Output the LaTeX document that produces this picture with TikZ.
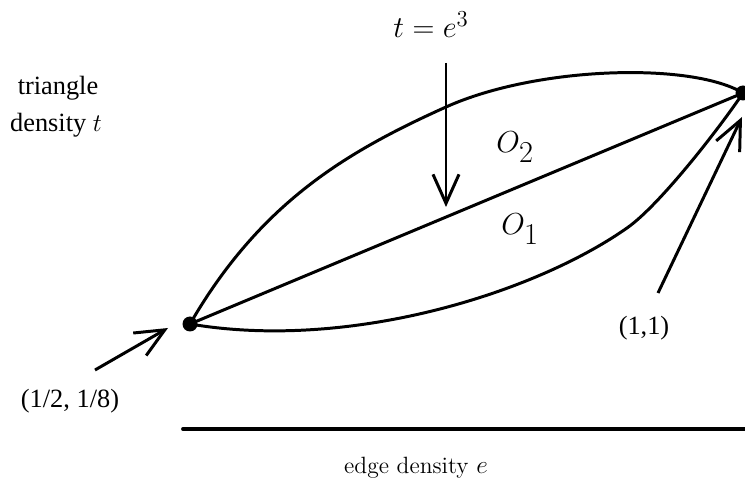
\documentclass[tikz,border=0pt]{standalone}
\usepackage{amsmath, amssymb}
\usepackage{fontspec}
\newfontfamily\timesfont{Liberation Serif}
\usepackage{tikz}
\usetikzlibrary{calc, arrows.meta}
\usepackage{tkz-euclide}

\begin{document}
\begin{tikzpicture}[x=0.02cm, y=-0.02cm, line width=1.7pt,
    pointer/.style={-{Straight Barb[length=0.58cm, width=0.52cm]}},
    lbl/.style={font=\timesfont\fontsize{15}{18}\selectfont, anchor=base, inner sep=0pt},
    mlbl/.style={font=\fontsize{17}{20}\selectfont, anchor=base, inner sep=0pt}]
                \useasboundingbox (0,0) rectangle (745,483);
                \tkzDefPoints{190/324/P, 743/93/Q, 446/107/M, 627/228/R, 183/429/A, 745/429/B}
                % the two curves O_2 (top) and O_1 (bottom)
                \draw (P) .. controls (260,203) and (346,152) .. (M)
                          .. controls (537,66) and (692,62) .. (Q);
                \draw (P) .. controls (348,351) and (533,294) .. (R)
                          .. controls (660,205) and (721,126) .. (Q);
                \tkzDrawSegments[black, line width=1.7pt](P,Q)
                \tkzDrawSegments[black, line width=2.2pt](A,B)
                \fill (P) circle (7.5) (Q) circle (7.5);
                % arrows
                \coordinate (tTop) at (446,63);
                \coordinate (tTip) at (446,207);
                \coordinate (hStart) at (95,370);
                \coordinate (hTip) at (168,328);
                \coordinate (oStart) at (658,293);
                \coordinate (oTip) at (742,117);
                \draw[pointer] (tTop) -- (tTip);
                \draw[pointer] (hStart) -- (hTip);
                \draw[pointer] (oStart) -- (oTip);
                % labels
                \node[mlbl] (te) at (431,38) {$t=e^{\text{\fontsize{13}{15}\selectfont 3}}$};
                \node[mlbl, anchor=base west] (o2) at (495,153) {$O_{\textstyle 2}$};
                \node[mlbl, anchor=base west] (o1) at (500,235) {$O_{\textstyle 1}$};
                \node[lbl] (tri) at (58,95) {triangle};
                \node[lbl] (dens) at (56,132) {density $t$};
                \node[lbl] (ph) at (70,408) {(1/2, 1/8)};
                \node[lbl] (po) at (644,335) {(1,1)};
                \node[anchor=base, font=\fontsize{13.4}{16}\selectfont, inner sep=0pt] (ed) at (416,474) {edge density $e$};
            \end{tikzpicture}
\end{document}
